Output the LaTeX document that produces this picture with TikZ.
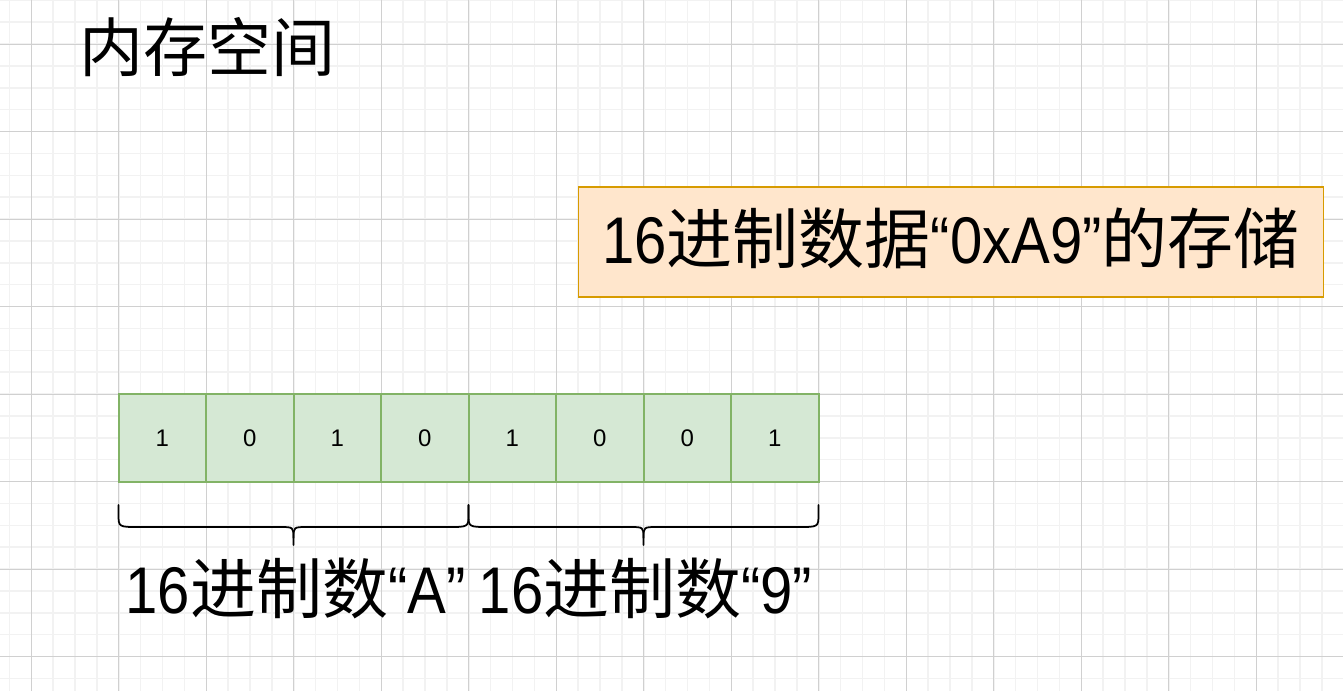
\documentclass[tikz,border=0pt]{standalone}
\usepackage{fontspec}
\setmainfont{Liberation Sans}
\newfontfamily\latinbig[FakeStretch=0.88]{Liberation Sans}
\newfontfamily\cjk{Noto Sans CJK SC}
\usetikzlibrary{positioning, arrows.meta}

\definecolor{gridminor}{HTML}{F2F2F2}
\definecolor{gridmajor}{HTML}{D0D0D0}
\definecolor{cellfill}{HTML}{D5E8D4}
\definecolor{celldraw}{HTML}{82B366}
\definecolor{notefill}{HTML}{FFE6CC}
\definecolor{notedraw}{HTML}{D79B00}

\begin{document}
\begin{tikzpicture}[x=1pt, y=-1pt,
    bigtext/.style={font=\latinbig\fontsize{66}{72}\selectfont, inner sep=0pt, anchor=base},
    bitcell/.style={draw=celldraw, fill=cellfill, line width=2pt, minimum width=87.5pt,
        minimum height=87.5pt, inner sep=0pt, font=\fontsize{24}{28}\selectfont},
    notebox/.style={draw=notedraw, fill=notefill, line width=1.75pt, minimum width=745pt,
        minimum height=110pt, inner sep=0pt, text height=51pt, text depth=9pt,
        font=\latinbig\fontsize{66}{72}\selectfont},
    bracestroke/.style={line width=1.75pt, line cap=round}]
    % Ukuran halaman
    \fill[white] (0,0) rectangle (1343,691);
    \useasboundingbox (0,0) rectangle (1343,691);

    % grid halus dan grid utama
    \foreach \k in {0,...,61}{
        \pgfmathsetmacro{\x}{9.375+21.875*\k}
        \draw[gridminor, line width=1.5pt] (\x,0) -- (\x,691);
      }
    \foreach \k in {0,...,31}{
        \pgfmathsetmacro{\y}{0.25+21.875*\k}
        \draw[gridminor, line width=1.5pt] (0,\y) -- (1343,\y);
      }
    \foreach \k in {0,...,14}{
        \pgfmathsetmacro{\x}{31.25+87.5*\k}
        \draw[gridmajor, line width=1pt] (\x,0) -- (\x,691);
      }
    \foreach \k in {0,...,7}{
        \pgfmathsetmacro{\y}{44+87.5*\k}
        \draw[gridmajor, line width=1pt] (0,\y) -- (1343,\y);
      }

    % judul
    \node[bigtext, font=\fontsize{64}{70}\selectfont] (title) at (207,71) {\cjk 内存空间};

    % kotak keterangan
    \node[notebox] (note) at (951,242) {16{\cjk 进制数据}“0xA9”{\cjk 的存储}};

    % deret bit
    \foreach \b [count=\i from 0] in {1,0,1,0,1,0,0,1}{
        \pgfmathsetmacro{\x}{118.5+87.5*\i+43.75}
        \node[bitcell] (c\i) at (\x,438) {\b};
      }

    % kurung kurawal
    \foreach \l/\r/\n in {118.5/468.5/A, 468.5/818.5/B}{
        \pgfmathsetmacro{\m}{(\l+\r)/2}
        \draw[bracestroke] (\l,505) -- (\l,514) .. controls (\l,527) .. (\l+20,527)
            -- (\m-14,527) .. controls (\m,527) .. (\m,538) -- (\m,545) coordinate (tip\n);
        \draw[bracestroke] (\m,538) .. controls (\m,527) .. (\m+14,527)
            -- (\r-20,527) .. controls (\r,527) .. (\r,514) -- (\r,505);
      }

    % label bawah
    \node[bigtext] (lblA) at ([xshift=2pt, yshift=-68pt]tipA) {16{\cjk 进制数}“A”};
    \node[bigtext] (lblB) at ([xshift=2pt, yshift=-68pt]tipB) {16{\cjk 进制数}“9”};
  \end{tikzpicture}
\end{document}
